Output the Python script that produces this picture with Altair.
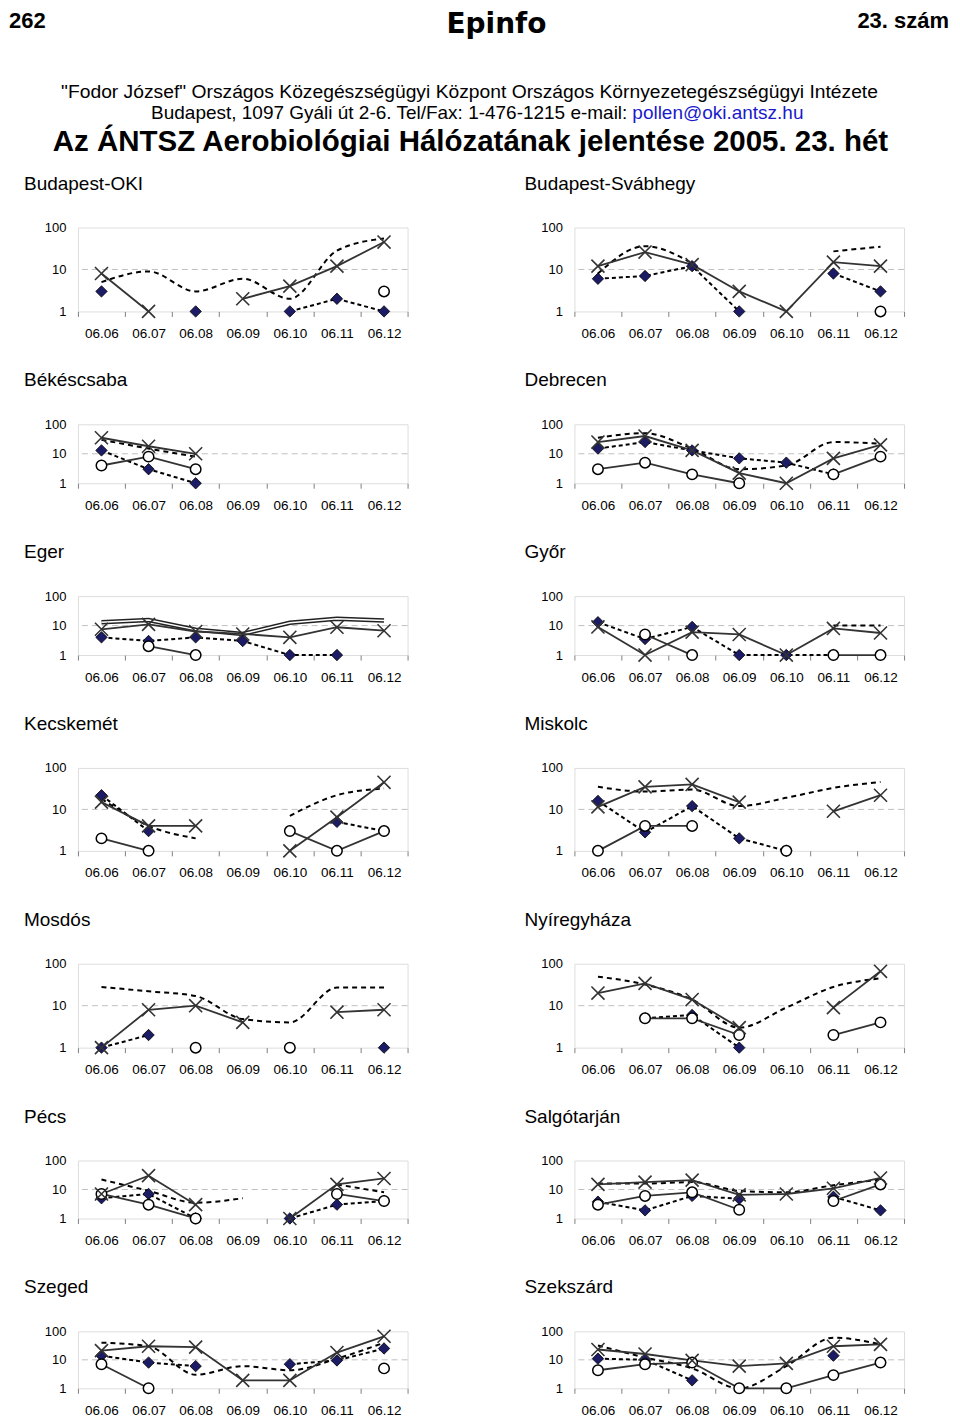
import altair as alt
import pandas as pd

N = None
DATES = ["06.06", "06.07", "06.08", "06.09", "06.10", "06.11", "06.12"]

budapest_oki = dict(
    dashed=[5, 9, 3, 6, 2, 28, 55],
    diamond=[3, N, 1, N, 1, 2, 1],
    circle=[N, N, N, N, N, N, 3],
    cross=[8, 1, N, 2, 4, 12, 45],
)
budapest_svabhegy = dict(
    dashed=[8, 36, 14, N, N, 27, 35],
    diamond=[6, 7, 12, 1, N, 8, 3],
    circle=[N, N, N, N, N, N, 1],
    cross=[12, 26, 13, 3, 1, 15, 12],
)
bekescsaba = dict(
    dashed=[30, 15, 8, N, N, N, N],
    diamond=[13, 3, 1, N, N, N, N],
    circle=[4, 8, 3, N, N, N, N],
    cross=[35, 18, 10, N, N, N, N],
)
debrecen = dict(
    dashed=[35, 50, 15, 3, 4, 25, 22],
    diamond=[15, 25, 13, 7, 5, 2, N],
    circle=[3, 5, 2, 1, N, 2, 8],
    cross=[25, 40, 13, 2.2, 1, 7, 20],
)
eger = dict(
    double=[13, 15.5, 7.3, 5.2, 12.5, 17, 15],
    diamond=[4, 3, 4, 3, 1, 1, N],
    circle=[N, 2, 1, N, N, N, N],
    cross=[7.5, 11, 6.3, 5.2, 4, 8.8, 6.7],
)
gyor = dict(
    dashed=[N, N, N, N, N, 10, 10],
    diamond=[13, 3.5, 9, 1, 1, 1, N],
    circle=[N, 5, 1, N, N, 1, 1],
    cross=[9, 1, 6, 5, 1, 8, 5.6],
)
kecskemet = dict(
    dashed=[18, 4, 2, N, 7, 22, 32],
    diamond=[22, 3, N, N, N, 5, 3],
    circle=[2, 1, N, N, 3, 1, 3],
    cross=[15, 4, 4, N, 1, 6.5, 45],
)
miskolc = dict(
    dashed=[35, 27, 30, 12, 19, 33, 46],
    diamond=[16, 2.8, 12, 2, 1, N, N],
    circle=[1, 4, 4, N, 1, N, N],
    cross=[11.5, 35, 40, 15, N, 9, 22],
)
mosdos = dict(
    dashed=[28, 22, 17, 4.8, 4, 27, 27],
    diamond=[1, 2, N, N, N, N, 1],
    circle=[N, N, 1, N, 1, N, N],
    cross=[1, 8, 10, 4, N, 7, 8],
)
nyiregyhaza = dict(
    dashed=[49, 32, 14, 3, 9, 28, 45],
    diamond=[N, 5, 6, 1, N, N, N],
    circle=[N, 5, 5, 2, N, 2, 4],
    cross=[20, 34, 14, 3, N, 9, 66],
)
pecs = dict(
    dashed=[22, 9, 3.5, 5, N, 15, 8],
    diamond=[5, 7, 1, N, 1, 3, 4],
    circle=[7, 3, 1, N, N, 7, 4],
    cross=[7, 30, 3, N, 1, 15, 24],
)
salgotarjan = dict(
    dashed=[16, 16, 18, 9, 8, 14, 22],
    diamond=[3.8, 1.9, 6, 4.8, N, 5.6, 1.9],
    circle=[3, 6, 8, 2, N, 4, 15],
    cross=[15, 18, 21, 6.5, 7, 11, 25],
)
szeged = dict(
    dashed=[40, 30, 3, 6, 4.3, 11, 40],
    diamond=[14, 8, 6, N, 7, 9.5, 25],
    circle=[7, 1, N, N, N, N, 5],
    cross=[21, 30, 28, 1.9, 1.9, 18, 67],
)
szekszard = dict(
    dashed=[32, 12, 5, 1, 6, 60, 35],
    diamond=[11, 10, 1.9, N, N, 14, N],
    circle=[4.3, 7, 8, 1, 1, 2.9, 8],
    cross=[23, 16, 9.5, 6, 7.5, 30, 35],
)

PANELS = [
    ("Budapest-OKI", budapest_oki), ("Budapest-Svábhegy", budapest_svabhegy),
    ("Békéscsaba", bekescsaba), ("Debrecen", debrecen),
    ("Eger", eger), ("Győr", gyor),
    ("Kecskemét", kecskemet), ("Miskolc", miskolc),
    ("Mosdós", mosdos), ("Nyíregyháza", nyiregyhaza),
    ("Pécs", pecs), ("Salgótarján", salgotarjan),
    ("Szeged", szeged), ("Szekszárd", szekszard),
]
ROW_HEIGHTS = [84, 59, 59, 83, 84, 58, 57]

PAGE_NO = "262"
MAST = "Epinfo"
ISSUE = "23. szám"
INST1 = "\"Fodor József\" Országos Közegészségügyi Központ Országos Környezetegészségügyi Intézete"
INST2 = "Budapest, 1097 Gyáli út 2-6. Tel/Fax: 1-476-1215 e-mail:"
EMAIL = "pollen@oki.antsz.hu"
MAIN_TITLE = "Az ÁNTSZ Aerobiológiai Hálózatának jelentése 2005. 23. hét"

FONT = "Liberation Sans"
W = 330
NAVY = "#1c1c66"
DARK = "#333333"


def to_long(data):
    rows = []
    for s, vals in data.items():
        seg = 0
        for d, v in zip(DATES, vals):
            if v is None:
                seg += 1
                continue
            rows.append(dict(date=d, series=s, value=v, seg=f"{s}{seg}"))
    return pd.DataFrame(rows)


def panel(name, data, height, dx):
    df = to_long(data)
    xenc = alt.X(
        "date:N", sort=DATES, bandPosition=0.5,
        scale=alt.Scale(type="band", domain=DATES, paddingInner=0, paddingOuter=0),
        axis=alt.Axis(title=None, labelAngle=0, tickBand="extent", tickSize=5,
                      tickColor="#808080", domain=False, labelFontSize=13.5,
                      labelPadding=10, labelColor="black", labelFont=FONT),
    )
    yenc = alt.Y(
        "value:Q",
        scale=alt.Scale(type="log", domain=[1, 100], nice=False),
        axis=alt.Axis(title=None, values=[1, 10, 100], format="d", ticks=False,
                      tickSize=0, domain=False, grid=False, labelFontSize=13,
                      labelPadding=12, labelColor="black", labelFont=FONT),
    )
    base = alt.Chart(df)
    grid = alt.Chart(pd.DataFrame({"value": [10]})).mark_rule(
        color="#c0c0c0", strokeDash=[6, 4], strokeWidth=1
    ).encode(y=yenc)

    def sel(s):
        return base.transform_filter(alt.datum.series == s)

    layers = [grid]
    layers.append(sel("dashed").mark_line(color="black", strokeWidth=2, strokeDash=[5, 4],
                                           interpolate="monotone").encode(x=xenc, y=yenc, detail="seg:N"))
    layers.append(sel("double").mark_line(color="#222222", strokeWidth=4.5).encode(
        x=xenc, y=yenc, detail="seg:N"))
    layers.append(sel("double").mark_line(color="white", strokeWidth=1.5).encode(
        x=xenc, y=yenc, detail="seg:N"))
    layers.append(sel("diamond").mark_line(color="black", strokeWidth=2, strokeDash=[4, 3]).encode(
        x=xenc, y=yenc, detail="seg:N"))
    layers.append(sel("circle").mark_line(color=DARK, strokeWidth=1.8).encode(
        x=xenc, y=yenc, detail="seg:N"))
    layers.append(sel("cross").mark_line(color=DARK, strokeWidth=1.8).encode(
        x=xenc, y=yenc, detail="seg:N"))
    layers.append(sel("diamond").mark_point(shape="diamond", size=130, filled=True, fill=NAVY,
                                             stroke="black", strokeWidth=0.8, opacity=1).encode(x=xenc, y=yenc))
    layers.append(sel("circle").mark_point(shape="circle", size=110, filled=True, fill="white",
                                            stroke="black", strokeWidth=1.5, opacity=1).encode(x=xenc, y=yenc))
    layers.append(sel("cross").mark_point(shape="M-1,-1L1,1M-1,1L1,-1", size=170, filled=False,
                                           stroke=DARK, strokeWidth=1.6, opacity=1).encode(x=xenc, y=yenc))
    return alt.layer(*layers).properties(
        width=W, height=height,
        title=alt.TitleParams(name, anchor="start", frame="group", dx=dx, offset=28,
                              fontSize=19, fontWeight="normal", font=FONT, color="black"),
    )


def text_layer(txt, x, y, size, weight="normal", align="left", baseline="top", color="black", font=FONT):
    return alt.Chart(pd.DataFrame({"t": [txt]})).mark_text(
        align=align, baseline=baseline, fontSize=size, fontWeight=weight, color=color, font=font
    ).encode(text="t:N", x=alt.value(x), y=alt.value(y))


header = alt.layer(
    text_layer(PAGE_NO, -69, 0, 22, "bold"),
    text_layer(MAST, 419, 0, 28, "bold", "center", font="DejaVu Sans"),
    text_layer(ISSUE, 872, 0, 22, "bold", "right"),
    text_layer(INST1, 392, 81, 19.3, align="center", baseline="middle"),
    text_layer(INST2, 550, 102, 19, align="right", baseline="middle"),
    text_layer(EMAIL, 555, 102, 19, align="left", baseline="middle", color="#1a1acc"),
    text_layer(MAIN_TITLE, 393, 131, 29.5, "bold", "center", baseline="middle"),
).properties(width=W, height=104, view=alt.ViewBackground(stroke="transparent"))

blank = text_layer("", 0, 0, 10).properties(
    width=W, height=104, view=alt.ViewBackground(stroke="transparent"))

cells = [header, blank]
for i, (name, data) in enumerate(PANELS):
    row = i // 2
    dx = -54 if i % 2 == 0 else -50
    cells.append(panel(name, data, ROW_HEIGHTS[row], dx))

chart = alt.concat(*cells, columns=2, spacing={"row": 113, "column": 167}, bounds="flush").properties(
    padding={"left": 0, "top": 0, "right": 2, "bottom": 2}
).configure_view(stroke="#8c8c8c", strokeWidth=2).configure(font=FONT)

chart.save("out.html", embed_options={"renderer": "svg", "actions": False})
